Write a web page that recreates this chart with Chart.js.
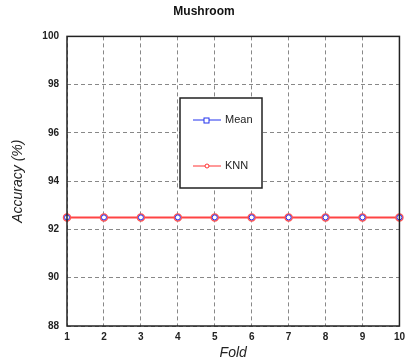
<!DOCTYPE html>
<html>
<head>
<meta charset="utf-8">
<script src="https://cdn.jsdelivr.net/npm/chart.js@4"></script>
<style>
  html, body { margin: 0; padding: 0; background: #fff; }
  #wrap { width: 410px; height: 362px; }
</style>
</head>
<body>
<div id="wrap"><canvas id="chart" width="410" height="362"></canvas></div>
<script>
// Données
const folds = ['1', '2', '3', '4', '5', '6', '7', '8', '9', '10'];
const meanValues = [92.5, 92.5, 92.5, 92.5, 92.5, 92.5, 92.5, 92.5, 92.5, 92.5];
const knnValues = [92.5, 92.5, 92.5, 92.5, 92.5, 92.5, 92.5, 92.5, 92.5, 92.5];
const yTicks = [88, 90, 92, 94, 96, 98, 100];

// Légende dessinée dans la zone du graphique
const boxLegend = {
  id: 'boxLegend',
  afterDraw(chart) {
    const c = chart.ctx;
    const x = 180, y = 98, w = 82, h = 90;
    c.save();
    c.fillStyle = '#fff';
    c.fillRect(x, y, w, h);
    c.strokeStyle = '#222';
    c.lineWidth = 1.5;
    c.strokeRect(x, y, w, h);
    const rows = [
      { label: 'Mean', color: '#2233ee', ly: y + 22, square: true },
      { label: 'KNN', color: '#ff3333', ly: y + 68, square: false }
    ];
    c.font = '11px "Liberation Sans", Arial, sans-serif';
    c.textBaseline = 'middle';
    rows.forEach(r => {
      c.strokeStyle = r.color;
      c.lineWidth = 1;
      c.beginPath();
      c.moveTo(x + 13, r.ly);
      c.lineTo(x + 41, r.ly);
      c.stroke();
      c.fillStyle = '#fff';
      if (r.square) {
        c.fillRect(x + 24, r.ly - 2, 5, 5);
        c.strokeRect(x + 24, r.ly - 2, 5, 5);
      } else {
        c.beginPath();
        c.arc(x + 27, r.ly, 2, 0, Math.PI * 2);
        c.fill();
        c.stroke();
      }
      c.fillStyle = '#222';
      c.fillText(r.label, x + 45, r.ly);
    });
    c.restore();
  }
};

// Cadre noir autour du graphique
const frame = {
  id: 'frame',
  afterDatasetsDraw(chart) {
    const a = chart.chartArea;
    const c = chart.ctx;
    c.save();
    c.strokeStyle = '#222';
    c.lineWidth = 1.5;
    c.strokeRect(a.left, a.top, a.right - a.left, a.bottom - a.top);
    c.restore();
  }
};

new Chart(document.getElementById('chart'), {
  type: 'line',
  data: {
    labels: folds,
    datasets: [
      {
        label: 'KNN',
        data: knnValues,
        borderColor: '#ff4444',
        backgroundColor: '#fff',
        borderWidth: 2,
        pointRadius: 3.5,
        pointBorderWidth: 1.5,
        pointBorderColor: '#ff5555',
        order: 2
      },
      {
        label: 'Mean',
        data: meanValues,
        borderColor: 'rgba(0,0,0,0)',
        backgroundColor: 'rgba(0,0,0,0)',
        borderWidth: 0,
        pointRadius: 2.5,
        pointBorderWidth: 1,
        pointBorderColor: '#2233ee',
        order: 1
      }
    ]
  },
  options: {
    responsive: false,
    animation: false,
    layout: { padding: { top: 0, right: 2, bottom: 0, left: 0 } },
    plugins: {
      legend: { display: false },
      tooltip: { enabled: false },
      title: {
        display: true,
        text: 'Mushroom',
        color: '#111',
        font: { family: 'Arial, "Liberation Sans", sans-serif', size: 12, weight: 'bold' },
        padding: { top: 4, bottom: 18 }
      }
    },
    scales: {
      x: {
        offset: false,
        afterFit(axis) { axis.height = 36; },
        grid: {
          color: '#888',
          lineWidth: 1,
          tickLength: 0
        },
        border: { display: false, dash: [4, 3] },
        ticks: {
          color: '#222',
          padding: 5,
          font: { family: 'Arial, "Liberation Sans", sans-serif', size: 10, weight: 'bold' }
        },
        title: {
          display: true,
          text: 'Fold',
          color: '#222',
          padding: { top: 0, bottom: 0 },
          font: { family: 'Arial, "Liberation Sans", sans-serif', size: 14, style: 'italic' }
        }
      },
      y: {
        min: 88,
        max: 100,
        afterBuildTicks(axis) {
          axis.ticks = yTicks.map(v => ({ value: v }));
        },
        afterFit(axis) { axis.width = 67; },
        grid: {
          color: '#888',
          lineWidth: 1,
          tickLength: 0
        },
        border: { display: false, dash: [4, 3] },
        ticks: {
          color: '#222',
          padding: 8,
          font: { family: 'Arial, "Liberation Sans", sans-serif', size: 10, weight: 'bold' }
        },
        title: {
          display: true,
          text: 'Accuracy (%)',
          color: '#222',
          padding: { top: 10, bottom: 6 },
          font: { family: 'Arial, "Liberation Sans", sans-serif', size: 14, style: 'italic' }
        }
      }
    }
  },
  plugins: [frame, boxLegend]
});
</script>
</body>
</html>
